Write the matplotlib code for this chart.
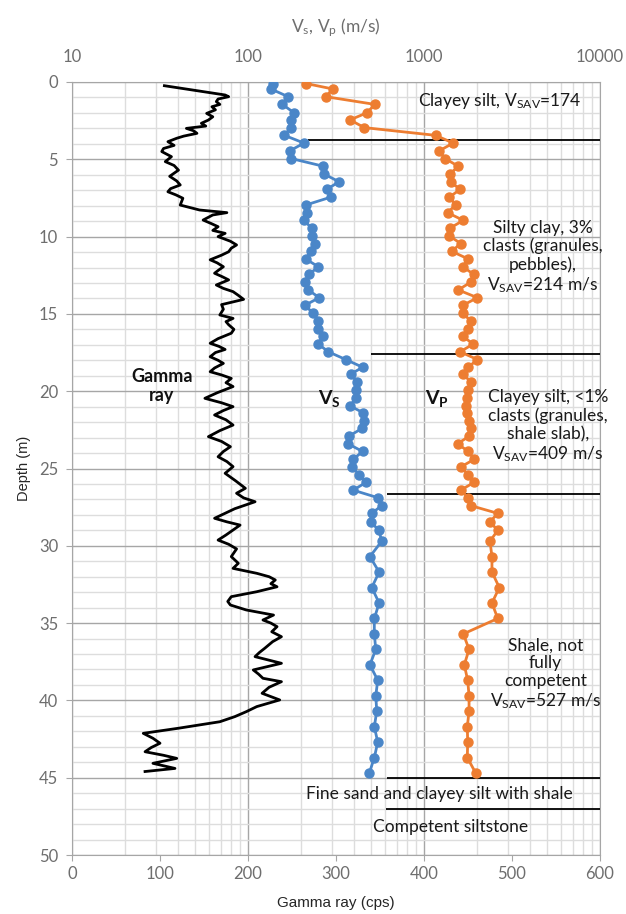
import matplotlib.pyplot as plt
from matplotlib.ticker import MultipleLocator, LogLocator, NullFormatter, FixedLocator, FixedFormatter

plt.rcParams['font.family'] = ['Lato', 'DejaVu Sans']
plt.rcParams['mathtext.default'] = 'regular'

# seismic velocities (m/s) at each test depth (m)
depth = [0.1, 0.45, 0.95, 1.45, 2.0, 2.45, 2.95, 3.45, 3.95, 4.45, 4.95, 5.45, 5.95,
         6.45, 6.95, 7.45, 7.95, 8.45, 8.95, 9.45, 9.95, 10.45, 10.95, 11.45, 11.95,
         12.45, 12.95, 13.45, 13.95, 14.45, 14.95, 15.45, 15.95, 16.45, 16.95, 17.45,
         17.95, 18.45, 18.9, 19.4, 19.9, 20.45, 20.95, 21.4, 21.9, 22.4, 22.9, 23.4,
         23.9, 24.4, 24.9, 25.4, 25.9, 26.4, 26.9, 27.4, 27.9, 28.45, 29.0, 29.7,
         30.7, 31.7, 32.7, 33.7, 34.7, 35.7, 36.7, 37.7, 38.7, 39.7, 40.7, 41.7,
         42.7, 43.7, 44.7]
vs = [139, 135, 169, 157, 183, 175, 175, 161, 208, 173, 176, 268, 270,
      329, 280, 295, 214, 217, 208, 230, 230, 240, 227, 213, 251,
      222, 210, 220, 254, 210, 235, 251, 251, 266, 251, 286,
      359, 448, 383, 418, 411, 410, 380, 452, 456, 446, 375, 370,
      448, 396, 391, 428, 468, 396, 551, 575, 505, 497, 555, 575,
      493, 556, 505, 556, 522, 522, 532, 493, 546, 532, 539, 522,
      546, 522, 489]
vp = [214, 303, 277, 527, 472, 380, 458, 1164, 1466, 1221, 1316, 1566, 1405,
      1416, 1603, 1392, 1514, 1360, 1673, 1405, 1392, 1618, 1436, 1786, 1660,
      1923, 1841, 1566, 2010, 1660, 1660, 1841, 1786, 1660, 1905, 1603,
      2010, 1786, 1673, 1841, 1786, 1762, 1730, 1762, 1810, 1841, 1810, 1552,
      1786, 1932, 1618, 1786, 1923, 1618, 1786, 1841, 2624, 2371, 2624, 2371,
      2433, 2433, 2679, 2433, 2624, 1673, 1803, 1694, 1771, 1803, 1803, 1762,
      1771, 1762, 1967]

# gamma ray log (cps)
gr_depth = [0.24, 0.84, 0.95, 1.1, 1.27, 1.45, 1.6, 1.8, 2.03, 2.25, 2.46, 2.67,
            2.85, 3.0, 3.15, 3.32, 3.5, 3.64, 3.86, 4.1, 4.3, 4.5, 4.83, 5.15,
            5.4, 5.7, 6.1, 6.4, 6.66, 6.9, 7.1, 7.3, 7.52, 7.96, 8.28, 8.45, 8.6,
            8.93, 9.15, 9.36, 9.6, 9.79, 10.0, 10.3, 10.54, 10.75, 10.98, 11.2,
            11.5, 11.7, 11.95, 12.15, 12.37, 12.6, 12.8, 13.13, 13.35, 13.56,
            13.8, 14.06, 14.4, 14.7, 15.07, 15.29, 15.5, 15.7, 16.0, 16.25, 16.6,
            16.9, 17.1, 17.3, 17.5, 17.77, 18.0, 18.2, 18.5, 18.74, 18.95, 19.17,
            19.45, 19.7, 20.1, 20.46, 20.75, 21.0, 21.25, 21.54, 21.85, 22.19,
            22.55, 22.94, 23.25, 23.59, 23.9, 24.24, 24.55, 24.88, 25.31, 25.8,
            26.28, 26.6, 26.9, 27.15, 27.6, 28.22, 28.45, 28.66, 28.98, 29.3,
            29.63, 29.9, 30.2, 30.7, 31.13, 31.46, 31.78, 32.0, 32.21, 32.45,
            32.65, 32.97, 33.29, 33.6, 33.83, 34.15, 34.48, 34.8, 35.0, 35.23,
            35.56, 35.88, 36.2, 36.63, 36.9, 37.17, 37.6, 38.03, 38.3, 38.57,
            38.79, 39.15, 39.54, 39.97, 40.4, 40.73, 41.05, 41.38, 41.8, 42.13,
            42.45, 42.77, 43.05, 43.32, 43.55, 43.75, 44.07, 44.4, 44.6]
gr_cps = [105, 174, 178, 166, 164, 168, 159, 163, 153, 160, 155, 147,
          152, 130, 138, 142, 127, 119, 109, 116, 104, 102, 113, 106,
          116, 121, 111, 119, 123, 112, 109, 118, 126, 123, 145, 176, 160,
          149, 158, 166, 160, 174, 166, 180, 187, 181, 178, 170,
          157, 165, 172, 167, 162, 171, 178, 164, 172, 183,
          189, 195, 170, 172, 168, 183, 175, 178, 184, 181, 166,
          157, 167, 174, 163, 157, 166, 172, 162, 157, 170, 181,
          175, 183, 165, 151, 170, 183, 172, 162, 175, 183,
          168, 155, 170, 180, 172, 166, 176, 183, 174, 186,
          197, 187, 195, 208, 185, 162, 176, 191, 183, 175,
          166, 178, 187, 181, 189, 183, 210, 224, 231, 226,
          233, 210, 181, 177, 180, 198, 229, 217, 226, 233,
          227, 238, 228, 219, 213, 208, 238, 206, 212, 217,
          238, 224, 216, 236, 210, 198, 185, 168, 121, 81,
          92, 100, 90, 83, 104, 119, 92, 117, 83]

# layer boundaries: depth (m) and left end in gamma units
bound_depth = [3.75, 17.6, 26.65, 45.05, 47.05]
bound_start = [268, 340, 358, 358, 357]

layer_text = ["Clayey silt, V$_{SAV}$=174",
              "Silty clay, 3%\nclasts (granules,\npebbles),\nV$_{SAV}$=214 m/s",
              "Clayey silt, <1%\nclasts (granules,\nshale slab),\nV$_{SAV}$=409 m/s",
              "Shale, not\nfully\ncompetent\nV$_{SAV}$=527 m/s",
              "Fine sand and clayey silt with shale",
              "Competent siltstone"]
text_x = [486, 535, 541, 538, 417, 430]
text_y = [1.2, 11.35, 22.3, 38.3, 46.05, 48.2]

fig = plt.figure(figsize=(6.26, 9.14), dpi=100)
rect = [72 / 626, 1 - 855 / 914, 528 / 626, 773 / 914]

major_c = '#a6a6a6'
minor_c = '#dddddd'

# background grid axis (log x, depth y)
bg = fig.add_axes(rect, zorder=0)
bg.set_xscale('log')
bg.set_xlim(10, 10000)
bg.set_ylim(50, 0)
bg.xaxis.set_major_locator(LogLocator(base=10))
bg.xaxis.set_minor_locator(LogLocator(base=10, subs=range(2, 10)))
bg.yaxis.set_major_locator(MultipleLocator(5))
bg.yaxis.set_minor_locator(MultipleLocator(1))
bg.grid(which='minor', color=minor_c, lw=1.0)
bg.grid(which='major', color=major_c, lw=1.0)
bg.tick_params(which='both', length=0, labelbottom=False, labelleft=False)
for sp in bg.spines.values():
    sp.set_color(major_c)

# gamma ray axis
ax = fig.add_axes(rect, zorder=1)
ax.patch.set_visible(False)
ax.plot(gr_cps, gr_depth, color='black', lw=2.0, zorder=3)
ax.set_xlim(0, 600)
ax.set_ylim(50, 0)
ax.xaxis.set_major_locator(MultipleLocator(100))
ax.yaxis.set_major_locator(MultipleLocator(5))
ax.tick_params(axis='both', colors=major_c, labelcolor='#6e6e6e', labelsize=12, length=4, pad=4)
ax.tick_params(axis='y', pad=6)
for sp in ax.spines.values():
    sp.set_visible(False)
ax.set_xlabel('Gamma ray (cps)', family=['Liberation Sans'], fontsize=11, color='#262626', labelpad=10)
ax.set_ylabel('Depth (m)', family=['Liberation Sans'], fontsize=10.5, color='#262626', labelpad=6)

for d, s in zip(bound_depth, bound_start):
    ax.hlines(d, s, 600, color='black', lw=1.3, zorder=4)

# velocity axis (log, top)
ax2 = ax.twiny()
ax2.set_zorder(2)
ax2.set_xscale('log')
ax2.set_xlim(10, 10000)
ax2.plot(vs, depth, color='#4a86c8', lw=2, marker='o', ms=6.5)
ax2.plot(vp, depth, color='#ed7d31', lw=2, marker='o', ms=6.5)
ax2.xaxis.set_major_locator(FixedLocator([10, 100, 1000, 10000]))
ax2.xaxis.set_major_formatter(FixedFormatter(['10', '100', '1000', '10000']))
ax2.xaxis.set_minor_formatter(NullFormatter())
ax2.tick_params(axis='x', which='both', length=0, pad=12, labelsize=12, labelcolor='#6e6e6e')
for sp in ax2.spines.values():
    sp.set_visible(False)
ax2.set_xlabel('V$_s$, V$_p$ (m/s)', fontsize=12.5, color='#6e6e6e', labelpad=12)

for t, x, y in zip(layer_text, text_x, text_y):
    ax2.text(x, y, t, transform=ax.transData, ha='center', va='center', fontsize=12.5,
             color='#1a1a1a', linespacing=1.15, zorder=5)

ax2.text(102, 19.65, 'Gamma\nray', transform=ax.transData, ha='center', va='center',
         fontsize=13, fontweight='bold', linespacing=1.15, color='#111111')
ax2.text(293, 20.5, 'V$_S$', transform=ax.transData, ha='center', va='center',
         fontsize=14, fontweight='bold', color='#111111')
ax2.text(415, 20.5, 'V$_P$', transform=ax.transData, ha='center', va='center',
         fontsize=14, fontweight='bold', color='#111111')

fig.savefig('out.png', dpi=100)
